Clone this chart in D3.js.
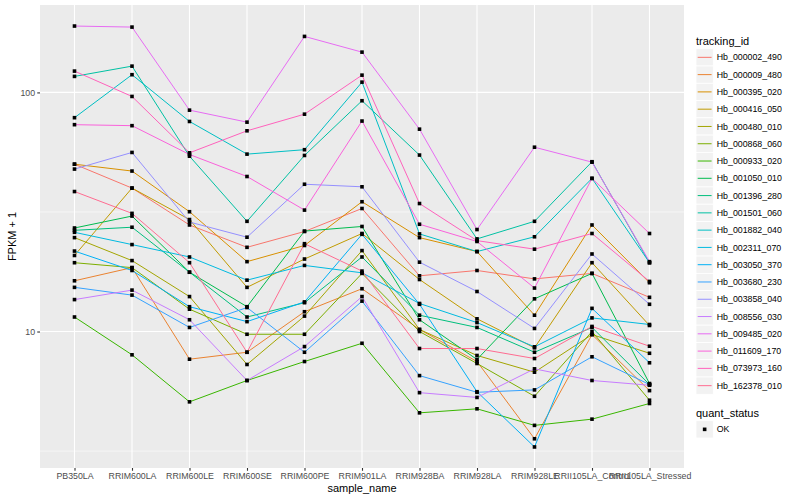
<!DOCTYPE html>
<html>
<head>
<meta charset="utf-8">
<script src="https://cdn.jsdelivr.net/npm/d3@7"></script>
<style>
  body { margin: 0; background: #fff; }
  text { font-family: "Liberation Sans", Arial, sans-serif; }
</style>
</head>
<body>
<svg width="800" height="500"></svg>
<script>
// x categories
const samples = ["PB350LA", "RRIM600LA", "RRIM600LE", "RRIM600SE", "RRIM600PE", "RRIM901LA",
  "RRIM928BA", "RRIM928LA", "RRIM928LE", "RRII105LA_Control", "RRII105LA_Stressed"];

// FPKM + 1, one array per gene, in the order of samples
const hb_000002_490 = [50.1, 39.8, 27.9, 22.5, 26.2, 32.7, 17.1, 18.0, 16.6, 17.5, 13.9];
const hb_000009_480 = [16.3, 18.5, 7.66, 8.19, 12.1, 15.1, 10.2, 7.49, 3.56, 9.71, 5.66];
const hb_000395_020 = [50.1, 46.9, 31.7, 19.6, 22.9, 34.9, 24.7, 21.6, 11.7, 27.9, 16.0];
const hb_000416_050 = [20.8, 39.8, 29.4, 15.3, 20.1, 25.7, 16.5, 11.3, 8.55, 19.4, 10.6];
const hb_000480_010 = [24.7, 19.8, 14.0, 7.28, 11.6, 21.8, 10.2, 7.94, 6.76, 9.71, 8.11];
const hb_000868_060 = [19.4, 18.5, 12.4, 9.74, 9.74, 17.5, 10.0, 7.35, 5.36, 10.0, 5.16];
const hb_000933_020 = [11.5, 7.99, 5.08, 6.24, 7.49, 8.93, 4.57, 4.75, 4.05, 4.30, 5.00];
const hb_001050_010 = [27.1, 30.4, 17.7, 12.7, 26.3, 27.5, 11.2, 7.64, 13.7, 17.5, 6.06];
const hb_001396_280 = [26.5, 27.3, 17.7, 11.5, 13.2, 20.5, 11.7, 10.4, 8.19, 10.4, 6.00];
const hb_001501_060 = [116.7, 128.8, 54.1, 28.9, 54.5, 92.3, 54.7, 24.4, 28.9, 51.3, 19.4];
const hb_001882_040 = [78.4, 118.6, 75.6, 55.2, 57.6, 110.4, 25.6, 21.6, 24.9, 43.7, 19.4];
const hb_002311_070 = [26.0, 23.1, 20.5, 16.4, 18.9, 17.6, 13.1, 10.9, 8.63, 11.4, 10.7];
const hb_003050_370 = [21.7, 18.0, 12.7, 11.0, 13.3, 25.5, 13.0, 5.60, 3.29, 12.5, 7.40];
const hb_003680_230 = [15.3, 14.2, 10.4, 12.6, 8.19, 13.4, 6.54, 5.57, 5.70, 7.84, 6.00];
const hb_003858_040 = [47.8, 56.1, 28.7, 24.8, 41.3, 40.3, 19.5, 14.7, 10.3, 21.1, 13.0];
const hb_008556_030 = [13.6, 14.9, 11.2, 6.24, 8.65, 14.0, 5.55, 5.30, 6.98, 6.24, 5.96];
const hb_009485_020 = [189.5, 187.6, 84.3, 75.1, 171.5, 147.4, 70.2, 26.7, 59.0, 51.1, 19.6];
const hb_011609_170 = [73.3, 72.6, 55.0, 44.5, 32.2, 75.9, 28.1, 23.8, 15.2, 43.7, 25.7];
const hb_073973_160 = [122.8, 96.2, 55.9, 69.1, 81.1, 118.1, 34.3, 24.0, 22.1, 25.7, 16.2];
const hb_162378_010 = [38.5, 31.2, 19.4, 8.19, 23.3, 17.9, 8.49, 8.49, 7.71, 10.5, 8.68];

const trackingIds = ["Hb_000002_490", "Hb_000009_480", "Hb_000395_020", "Hb_000416_050",
  "Hb_000480_010", "Hb_000868_060", "Hb_000933_020", "Hb_001050_010", "Hb_001396_280",
  "Hb_001501_060", "Hb_001882_040", "Hb_002311_070", "Hb_003050_370", "Hb_003680_230",
  "Hb_003858_040", "Hb_008556_030", "Hb_009485_020", "Hb_011609_170", "Hb_073973_160",
  "Hb_162378_010"];
const geneValues = [hb_000002_490, hb_000009_480, hb_000395_020, hb_000416_050, hb_000480_010,
  hb_000868_060, hb_000933_020, hb_001050_010, hb_001396_280, hb_001501_060, hb_001882_040,
  hb_002311_070, hb_003050_370, hb_003680_230, hb_003858_040, hb_008556_030, hb_009485_020,
  hb_011609_170, hb_073973_160, hb_162378_010];
const quantStatus = ["OK"];

const yTicks = [10, 100];
const yMinorTicks = [3.1623, 31.623];

// ggplot hue palette for 20 groups
const colours = ["#F8766D", "#EA8331", "#D89000", "#C09B00", "#A3A500", "#7CAE00", "#39B600",
  "#00BB4E", "#00BF7D", "#00C1A3", "#00BFC4", "#00BAE0", "#00B0F6", "#35A2FF", "#9590FF",
  "#C77CFF", "#E76BF3", "#FA62DB", "#FF62BC", "#FF6C91"];

const svg = d3.select("svg");
const panel = { left: 40, right: 684, top: 5, bottom: 468 };

const series = trackingIds.map((id, i) => ({
  id: id,
  values: samples.map((s, j) => ({ sample: s, value: geneValues[i][j] }))
}));

// log scale, 5% expansion like ggplot
const all = d3.merge(geneValues);
const lo = Math.log10(d3.min(all)), hi = Math.log10(d3.max(all));
const pad = (hi - lo) * 0.05;
const y = d3.scaleLog()
  .domain([Math.pow(10, lo - pad), Math.pow(10, hi + pad)])
  .range([panel.bottom, panel.top]);

const x = d3.scalePoint()
  .domain(samples)
  .range([panel.left, panel.right])
  .padding(0.6);

const colour = d3.scaleOrdinal().domain(trackingIds).range(colours);

// panel background + grid
svg.append("rect")
  .attr("x", panel.left).attr("y", panel.top)
  .attr("width", panel.right - panel.left)
  .attr("height", panel.bottom - panel.top)
  .attr("fill", "#EBEBEB");

svg.append("g").selectAll("line").data(yMinorTicks).join("line")
  .attr("x1", panel.left).attr("x2", panel.right)
  .attr("y1", d => y(d)).attr("y2", d => y(d))
  .attr("stroke", "#fff").attr("stroke-width", 0.55);

svg.append("g").selectAll("line").data(yTicks).join("line")
  .attr("x1", panel.left).attr("x2", panel.right)
  .attr("y1", d => y(d)).attr("y2", d => y(d))
  .attr("stroke", "#fff").attr("stroke-width", 1.1);

svg.append("g").selectAll("line").data(samples).join("line")
  .attr("x1", d => x(d)).attr("x2", d => x(d))
  .attr("y1", panel.top).attr("y2", panel.bottom)
  .attr("stroke", "#fff").attr("stroke-width", 1.1);

// lines
const line = d3.line()
  .x(d => x(d.sample))
  .y(d => y(d.value));

svg.append("g").selectAll("path").data(series).join("path")
  .attr("d", d => line(d.values))
  .attr("fill", "none")
  .attr("stroke", d => colour(d.id))
  .attr("stroke-width", 1);

// points
const pts = svg.append("g");
series.forEach(s => {
  pts.selectAll(null).data(s.values).join("rect")
    .attr("x", d => x(d.sample) - 1.8)
    .attr("y", d => y(d.value) - 1.8)
    .attr("width", 3.6).attr("height", 3.6)
    .attr("fill", "#000");
});

// axes
const yAxis = d3.axisLeft(y).tickValues(yTicks).tickFormat(d3.format("d"))
  .tickSize(2.75).tickPadding(2.2);
const yAxisG = svg.append("g").attr("transform", `translate(${panel.left},0)`).call(yAxis);

const xAxis = d3.axisBottom(x).tickSize(2.75).tickPadding(2.2);
const xAxisG = svg.append("g").attr("transform", `translate(0,${panel.bottom})`).call(xAxis);

[yAxisG, xAxisG].forEach(g => {
  g.select(".domain").remove();
  g.selectAll(".tick line").attr("stroke", "#333333").attr("stroke-width", 1.1);
  g.selectAll(".tick text")
    .attr("fill", "#4D4D4D")
    .style("font-size", "8.8px")
    .style("font-family", "'Liberation Sans', Arial, sans-serif");
});

svg.append("text")
  .attr("transform", `translate(16,${(panel.top + panel.bottom) / 2}) rotate(-90)`)
  .attr("text-anchor", "middle")
  .style("font-size", "11px")
  .text("FPKM + 1");

svg.append("text")
  .attr("x", (panel.left + panel.right) / 2)
  .attr("y", 492)
  .attr("text-anchor", "middle")
  .style("font-size", "11px")
  .text("sample_name");

// legend: tracking_id
const keySize = 17.28;
const legX = 696;
const leg = svg.append("g");
leg.append("text").attr("x", legX).attr("y", 44.5)
  .style("font-size", "11px").text("tracking_id");

const items = leg.selectAll("g.item").data(trackingIds).join("g")
  .attr("class", "item")
  .attr("transform", (d, i) => `translate(${legX},${48.7 + i * keySize})`);
items.append("rect")
  .attr("width", keySize).attr("height", keySize)
  .attr("fill", "#F2F2F2").attr("stroke", "#fff").attr("stroke-width", 0.8);
items.append("line")
  .attr("x1", 1.7).attr("x2", keySize - 1.7)
  .attr("y1", keySize / 2).attr("y2", keySize / 2)
  .attr("stroke", d => colour(d)).attr("stroke-width", 1);
items.append("text")
  .attr("x", keySize + 3.5).attr("y", keySize / 2 + 3.1)
  .style("font-size", "8.8px").text(d => d);

// legend: quant_status
leg.append("text").attr("x", legX).attr("y", 416.5)
  .style("font-size", "11px").text("quant_status");
const qItems = leg.selectAll("g.q").data(quantStatus).join("g")
  .attr("class", "q")
  .attr("transform", (d, i) => `translate(${legX},${420.7 + i * keySize})`);
qItems.append("rect")
  .attr("width", keySize).attr("height", keySize)
  .attr("fill", "#F2F2F2").attr("stroke", "#fff").attr("stroke-width", 0.8);
qItems.append("rect")
  .attr("x", keySize / 2 - 1.8).attr("y", keySize / 2 - 1.8)
  .attr("width", 3.6).attr("height", 3.6).attr("fill", "#000");
qItems.append("text")
  .attr("x", keySize + 3.5).attr("y", keySize / 2 + 3.1)
  .style("font-size", "8.8px").text(d => d);
</script>
</body>
</html>
